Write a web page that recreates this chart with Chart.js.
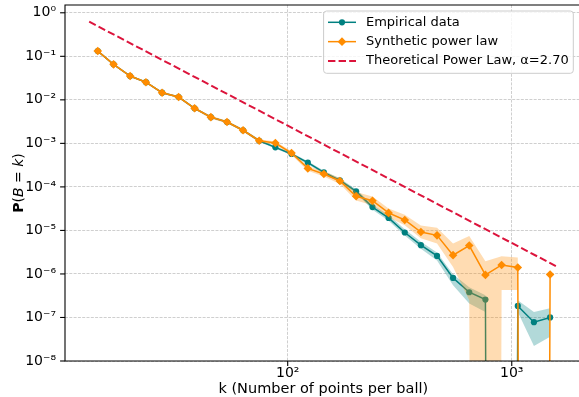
<!DOCTYPE html>
<html>
<head>
<meta charset="utf-8">
<script src="https://cdn.jsdelivr.net/npm/chart.js@4/dist/chart.umd.min.js"></script>
<style>
html,body{margin:0;padding:0;overflow:hidden;background:#fff;}
#wrap{width:582px;height:397px;}
canvas{display:block;}
</style>
</head>
<body>
<div id="wrap"><canvas id="c" width="582" height="397" style="width:582px;height:397px"></canvas></div>
<script>
// ---- data ----
const kValues = [14.2, 16.7, 19.8, 23.3, 27.5, 32.6, 38.4, 45.4, 53.6, 63.2, 74.6, 88.1, 104, 123, 145, 171, 202, 239, 282, 333, 393, 464, 547, 646, 763, 901, 1064, 1256, 1483];

const empirical      = [0.132, 0.0653, 0.0352, 0.0254, 0.0146, 0.0116, 0.0064, 0.0040, 0.0031, 0.0020, 0.00115, 0.00081, 0.00057, 0.00036, 0.000215, 0.000141, 7.9e-5, 3.43e-5, 1.94e-5, 8.97e-6, 4.58e-6, 2.6e-6, 8.1e-7, 3.8e-7, 2.58e-7, 0, 1.84e-7, 7.8e-8, 1.0e-7];
const empiricalUpper = [0.137, 0.068, 0.0366, 0.0264, 0.0152, 0.0121, 0.0067, 0.0042, 0.00325, 0.0021, 0.00122, 0.00086, 0.00061, 0.00039, 0.000235, 0.000155, 8.8e-5, 3.9e-5, 2.25e-5, 1.06e-5, 5.5e-6, 3.1e-6, 9.9e-7, 4.95e-7, 3.24e-7, 0, 2.49e-7, 1.34e-7, 1.63e-7];
const empiricalLower = [0.127, 0.0627, 0.0338, 0.0244, 0.014, 0.0111, 0.0061, 0.0038, 0.00295, 0.0019, 0.00108, 0.00076, 0.00053, 0.00033, 0.000197, 0.000128, 7.1e-5, 3.0e-5, 1.67e-5, 7.6e-6, 3.8e-6, 2.05e-6, 5.5e-7, 2.09e-7, 1.34e-7, 0, 1.34e-7, 2.2e-8, 3.6e-8];

const synthetic      = [0.132, 0.0653, 0.0352, 0.0254, 0.0146, 0.0116, 0.0064, 0.0040, 0.0031, 0.0020, 0.00115, 0.00102, 0.0006, 0.000266, 0.000198, 0.000137, 6.1e-5, 4.8e-5, 2.53e-5, 1.74e-5, 9.2e-6, 7.7e-6, 2.7e-6, 4.5e-6, 9.5e-7, 1.61e-6, 1.41e-6, 0, 9.7e-7];
const syntheticUpper = [0.139, 0.069, 0.0371, 0.0268, 0.0154, 0.0123, 0.0068, 0.0043, 0.0033, 0.00215, 0.00125, 0.00111, 0.00066, 0.0003, 0.000225, 0.00016, 7.6e-5, 6.0e-5, 3.2e-5, 2.3e-5, 1.3e-5, 1.15e-5, 5.0e-6, 7.4e-6, 1.96e-6, 2.56e-6, 2.39e-6, 0, 1.74e-6];
const syntheticLower = [0.125, 0.062, 0.0334, 0.0241, 0.0138, 0.0109, 0.006, 0.0037, 0.0029, 0.00186, 0.00106, 0.00093, 0.00054, 0.000236, 0.000174, 0.000117, 4.9e-5, 3.8e-5, 2.0e-5, 1.32e-5, 6.6e-6, 5.0e-6, 1.45e-6, 2.5e-7, 0, 4.3e-7, 4.3e-7, 0, 7e-7];

const theoryK = [13.0, 1600];
const theoryP = [0.624, 1.45e-6];

const seriesLabels = ['Empirical data', 'Synthetic power law', 'Theoretical Power Law, \u03b1=2.70'];
const xTickExponents = [2, 3];
const yTickExponents = [0, -1, -2, -3, -4, -5, -6, -7, -8];
const xLabel = 'k (Number of points per ball)';
const yLabelParts = [['P', 'bold'], ['(', ''], ['B', 'italic'], [' = ', ''], ['k', 'italic'], [')', '']];

const X_MIN = 10.14, X_MAX = 2050, Y_MIN = 1e-8, Y_MAX = 1.51;

// ---- helpers ----
const FONT = '"DejaVu Sans", "Liberation Sans", sans-serif';
const TEAL = '#008080', ORANGE = '#FF8C00', CRIMSON = '#DC143C';
const CIRCLE_R = 3.1, DIAMOND_R = 4.3;
// like matplotlib's log axes, non-positive values are clipped far below the axis
const clipLog = v => (v > 0 ? v : 1e-100);
const pts = (xs, ys) => xs.map((x, i) => ({x: x, y: clipLog(ys[i])}));
const SUP = {'0':'\u2070','1':'\u00b9','2':'\u00b2','3':'\u00b3','4':'\u2074','5':'\u2075','6':'\u2076','7':'\u2077','8':'\u2078','9':'\u2079','-':'\u207b'};
const powLabel = e => '10' + String(e).split('').map(c => SUP[c]).join('');
function decadeInfo(v) {
  const lg = Math.log10(v);
  const e = Math.floor(lg + 1e-9);
  const m = v / Math.pow(10, e);
  const r = Math.round(m);
  return {e: e, m: m, r: r, isInt: Math.abs(m - r) < 1e-6 && r >= 1 && r <= 9};
}
const isDecade = v => { const d = decadeInfo(v); return d.isInt && d.r === 1; };

// ---- plugins ----
const spinesAndTicks = {
  id: 'spinesAndTicks',
  afterDatasetsDraw(chart) {
    const {ctx, chartArea: a} = chart;
    ctx.save();
    ctx.strokeStyle = '#000';
    ['x', 'y'].forEach(id => {
      const s = chart.scales[id];
      s.ticks.forEach(t => {
        const d = decadeInfo(t.value);
        if (!d.isInt) return;
        const major = d.r === 1;
        const len = major ? 4.9 : 2.8;
        ctx.lineWidth = major ? 1.1 : 0.85;
        const p = s.getPixelForValue(t.value);
        ctx.beginPath();
        if (id === 'x') {
          if (p < a.left - 0.5 || p > a.right + 0.5) return;
          ctx.moveTo(p, a.bottom); ctx.lineTo(p, a.bottom + len);
        } else {
          if (p < a.top - 0.5 || p > a.bottom + 0.5) return;
          ctx.moveTo(a.left, p); ctx.lineTo(a.left - len, p);
        }
        ctx.stroke();
      });
    });
    ctx.lineWidth = 1.1;
    ctx.beginPath();
    ctx.moveTo(a.left, a.bottom); ctx.lineTo(a.left, a.top); ctx.lineTo(a.right, a.top);
    ctx.lineTo(a.right, a.bottom); ctx.closePath();
    ctx.stroke();
    ctx.restore();
  }
};

const yTitle = {
  id: 'yTitle',
  afterDraw(chart) {
    const {ctx, chartArea: a} = chart;
    const size = 14;
    ctx.save();
    const fonts = yLabelParts.map(p => (p[1] ? p[1] + ' ' : '') + size + 'px ' + FONT);
    let total = 0;
    const widths = yLabelParts.map((p, i) => { ctx.font = fonts[i]; const w = ctx.measureText(p[0]).width; total += w; return w; });
    ctx.translate(22.8, (a.top + a.bottom) / 2);
    ctx.rotate(-Math.PI / 2);
    ctx.fillStyle = '#000';
    ctx.textBaseline = 'alphabetic';
    ctx.textAlign = 'left';
    let x = -total / 2;
    yLabelParts.forEach((p, i) => { ctx.font = fonts[i]; ctx.fillText(p[0], x, 0); x += widths[i]; });
    ctx.restore();
  }
};

function drawMarker(ctx, kind, x, y, color) {
  ctx.fillStyle = color;
  ctx.beginPath();
  if (kind === 'circle') {
    ctx.arc(x, y, CIRCLE_R, 0, Math.PI * 2);
  } else {
    const r = DIAMOND_R;
    ctx.moveTo(x, y - r); ctx.lineTo(x + r, y); ctx.lineTo(x, y + r); ctx.lineTo(x - r, y); ctx.closePath();
  }
  ctx.fill();
}

const mplLegend = {
  id: 'mplLegend',
  afterDraw(chart) {
    const {ctx, chartArea: a} = chart;
    const fs = 13;
    ctx.save();
    ctx.font = fs + 'px ' + FONT;
    const tw = Math.max(...seriesLabels.map(s => ctx.measureText(s).width));
    const w = 42.4 + tw + 4.6;
    const h = 62.3;
    const x0 = a.right - 8.3 - w, y0 = a.top + 6;
    ctx.beginPath();
    if (ctx.roundRect) ctx.roundRect(x0, y0, w, h, 3); else ctx.rect(x0, y0, w, h);
    ctx.fillStyle = 'rgba(255,255,255,0.8)';
    ctx.fill();
    ctx.strokeStyle = '#cccccc';
    ctx.lineWidth = 1;
    ctx.stroke();
    const styles = [
      {color: TEAL, lw: 1.5, dash: [], marker: 'circle'},
      {color: ORANGE, lw: 1.5, dash: [], marker: 'diamond'},
      {color: CRIMSON, lw: 2, dash: [7.4, 3.2], marker: null}
    ];
    seriesLabels.forEach((lab, i) => {
      const cy = y0 + 11.3 + i * 19.35;
      const st = styles[i];
      ctx.save();
      ctx.strokeStyle = st.color; ctx.lineWidth = st.lw; ctx.setLineDash(st.dash);
      ctx.beginPath(); ctx.moveTo(x0 + 4.4, cy); ctx.lineTo(x0 + 32.4, cy); ctx.stroke();
      ctx.restore();
      if (st.marker) drawMarker(ctx, st.marker, x0 + 18.4, cy, st.color);
      ctx.fillStyle = '#000';
      ctx.textBaseline = 'middle';
      ctx.textAlign = 'left';
      ctx.font = fs + 'px ' + FONT;
      ctx.fillText(lab, x0 + 42.4, cy);
    });
    ctx.restore();
  }
};

const bandStyle = {borderWidth: 0, borderColor: 'rgba(0,0,0,0)', pointRadius: 0, pointHoverRadius: 0, tension: 0};

const chart = new Chart(document.getElementById('c'), {
  type: 'line',
  data: {
    datasets: [
      {label: seriesLabels[2], data: pts(theoryK, theoryP), borderColor: CRIMSON, borderWidth: 2, borderDash: [7.4, 3.2],
       pointRadius: 0, fill: false, order: 0},
      {label: seriesLabels[1], data: pts(kValues, synthetic), borderColor: ORANGE, borderWidth: 1.5,
       pointStyle: 'rectRot', pointRadius: DIAMOND_R, pointBackgroundColor: ORANGE, pointBorderColor: ORANGE, pointBorderWidth: 0,
       fill: false, order: 1},
      Object.assign({label: 'synthetic upper', data: pts(kValues, syntheticUpper), fill: {target: 3}, backgroundColor: 'rgba(255,140,0,0.3)', order: 2}, bandStyle),
      Object.assign({label: 'synthetic lower', data: pts(kValues, syntheticLower), fill: false, order: 3}, bandStyle),
      {label: seriesLabels[0], data: pts(kValues, empirical), borderColor: TEAL, borderWidth: 1.5,
       pointStyle: 'circle', pointRadius: CIRCLE_R, pointBackgroundColor: TEAL, pointBorderColor: TEAL, pointBorderWidth: 0,
       fill: false, order: 4},
      Object.assign({label: 'empirical upper', data: pts(kValues, empiricalUpper), fill: {target: 6}, backgroundColor: 'rgba(0,128,128,0.3)', order: 5}, bandStyle),
      Object.assign({label: 'empirical lower', data: pts(kValues, empiricalLower), fill: false, order: 6}, bandStyle)
    ]
  },
  options: {
    responsive: false,
    devicePixelRatio: 1,
    animation: false,
    events: [],
    // the canvas is slightly wider than the window, so the right spine sits just past its edge, as in the reference
    layout: {autoPadding: false, padding: {left: 0, right: 0.4, top: 5, bottom: 0}},
    elements: {line: {tension: 0}},
    plugins: {legend: {display: false}, tooltip: {enabled: false}, title: {display: false}},
    scales: {
      x: {
        type: 'logarithmic', min: X_MIN, max: X_MAX,
        afterFit: s => { s.height = 36; s.paddingLeft = 0; s.paddingRight = 0; s.paddingTop = 0; s.paddingBottom = 0; },
        border: {display: false, dash: [3, 1.3]},
        grid: {drawTicks: false, lineWidth: 1, color: c => (c.tick && isDecade(c.tick.value)) ? '#cfcfcf' : 'rgba(0,0,0,0)'},
        ticks: {
          autoSkip: false, maxRotation: 0, minRotation: 0, padding: 3.5, color: '#000',
          font: {family: FONT, size: 14},
          callback: v => { const d = decadeInfo(v); return (d.isInt && d.r === 1 && xTickExponents.includes(d.e)) ? powLabel(d.e) : null; }
        },
        title: {display: true, text: xLabel, color: '#000', font: {family: FONT, size: 14.5, lineHeight: 1.1}, padding: {top: 0, bottom: 0}}
      },
      y: {
        type: 'logarithmic', min: Y_MIN, max: Y_MAX,
        afterFit: s => { s.width = 65; s.paddingLeft = 0; s.paddingRight = 0; s.paddingTop = 0; s.paddingBottom = 0; },
        border: {display: false, dash: [3, 1.3]},
        grid: {drawTicks: false, lineWidth: 1, color: c => (c.tick && isDecade(c.tick.value)) ? '#cfcfcf' : 'rgba(0,0,0,0)'},
        ticks: {
          autoSkip: false, padding: 9, color: '#000',
          font: {family: FONT, size: 14},
          callback: v => { const d = decadeInfo(v); return (d.isInt && d.r === 1 && yTickExponents.includes(d.e)) ? powLabel(d.e) : null; }
        },
        title: {display: false}
      }
    }
  },
  plugins: [spinesAndTicks, yTitle, mplLegend]
});
</script>
</body>
</html>
